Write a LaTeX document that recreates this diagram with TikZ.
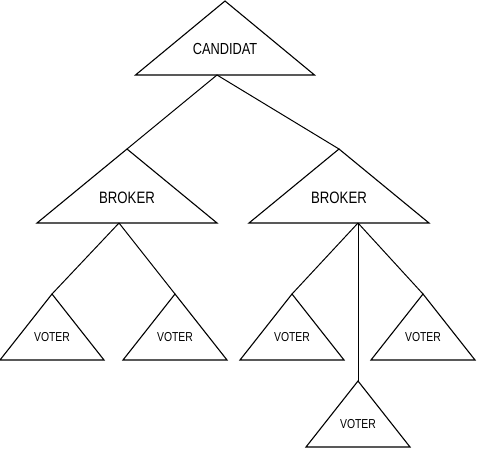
\documentclass[tikz,border=0pt]{standalone}
\usepackage{fontspec}
\setmainfont[FakeStretch=0.8]{Liberation Sans}
\tikzset{
  % triangle: #1 half width, #2 height, #3 font size, #4 label, #5 x offset of the outlet on the base
  pics/tri/.style n args={5}{code={
    \draw (0,0) -- (-#1,#2) -- (#1,#2) -- cycle;
    \coordinate (-apex) at (0,0);
    \coordinate (-out) at (#5,#2);
    \node[font=\fontsize{#3}{#3}\selectfont, inner sep=0pt] (-label) at (0,{#2*0.655}) {#4};
  }},
  link/.style={draw, line width=1pt}
}
\begin{document}
\begin{tikzpicture}[x=1pt, y=-1pt, line width=1.1pt, line join=miter]
\useasboundingbox (0,0) rectangle (478,456);
\pic (cand) at (225,1) {tri={89.5}{74}{16}{CANDIDAT}{-8}};
\pic (bl) at (127,149) {tri={90}{74}{16.5}{BROKER}{-8}};
\pic (br) at (339,149) {tri={90}{74}{16.5}{BROKER}{19}};
\pic (v1) at (52,294) {tri={52}{66}{13}{VOTER}{0}};
\pic (v2) at (175,294) {tri={52}{66}{13}{VOTER}{0}};
\pic (v3) at (292,294) {tri={52}{66}{13}{VOTER}{0}};
\pic (v4) at (423,294) {tri={52}{66}{13}{VOTER}{0}};
\pic (v5) at (358,381) {tri={52}{66}{13}{VOTER}{0}};
\path[link] (cand-out) -- (bl-apex);
\path[link] (cand-out) -- (br-apex);
\path[link] (bl-out) -- (v1-apex);
\path[link] (bl-out) -- (v2-apex);
\path[link] (br-out) -- (v3-apex);
\path[link] (br-out) -- (v5-apex);
\path[link] (br-out) -- (v4-apex);
\end{tikzpicture}
\end{document}
